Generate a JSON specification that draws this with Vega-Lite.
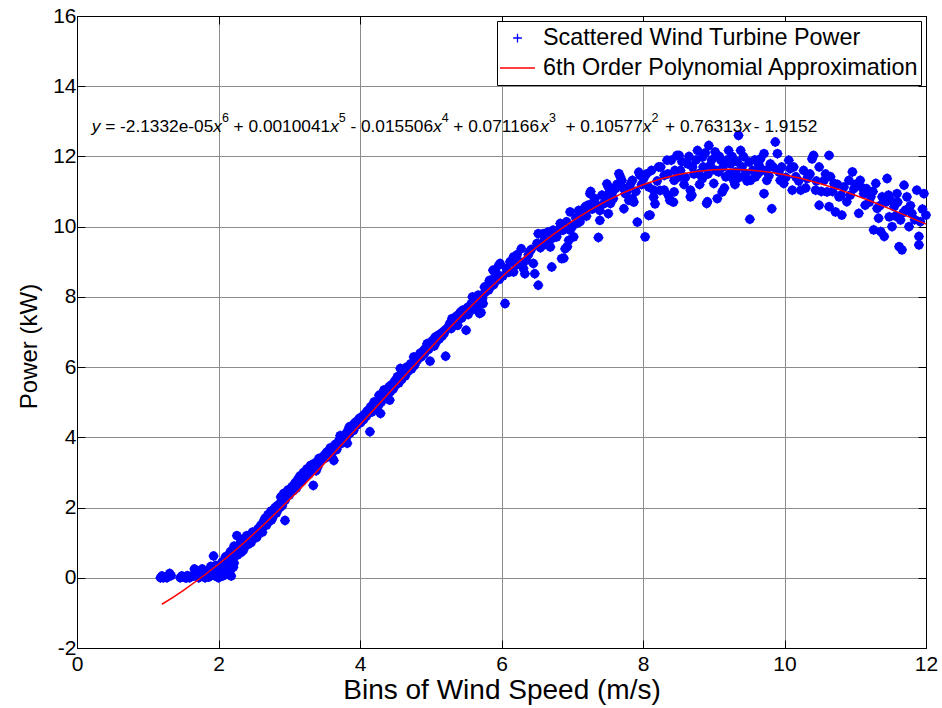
{
  "$schema": "https://vega.github.io/schema/vega-lite/v6.json",
  "width": 849,
  "height": 632,
  "autosize": {"type": "none"},
  "padding": {"left": 77, "top": 16, "right": 16, "bottom": 60},
  "background": "white",
  "config": {
    "view": {"stroke": "black", "strokeWidth": 1},
    "font": "Liberation Sans",
    "axis": {
      "domainColor": "black",
      "domainWidth": 1,
      "tickColor": "black",
      "tickSize": -8,
      "tickWidth": 1,
      "labelFont": "Liberation Sans",
      "labelFontSize": 21,
      "labelColor": "black",
      "labelFlush": false,
      "labelOverlap": false,
      "labelExpr": "'' + datum.value",
      "titleFont": "Liberation Sans",
      "titleFontWeight": "normal",
      "titleColor": "black",
      "gridColor": "#8c8c8c",
      "gridWidth": 1,
      "gridOpacity": 1
    },
    "legend": {
      "orient": "top-right",
      "offset": 5,
      "fillColor": "white",
      "strokeColor": "black",
      "padding": 2,
      "symbolSize": 1225,
      "symbolStrokeWidth": 1.3,
      "labelFont": "Liberation Sans",
      "labelFontSize": 23.4,
      "labelColor": "black",
      "labelOffset": 7,
      "labelLimit": 600,
      "rowPadding": 0,
      "clipHeight": 30
    }
  },
  "datasets": {
    "turbine": [
      {"x": 1.18, "y": 0.0}, {"x": 1.2, "y": 0.05}, {"x": 1.22, "y": 0.0}, {"x": 1.25, "y": 0.02}, {"x": 1.27, "y": 0.0}, {"x": 1.28, "y": 0.03}, {"x": 1.31, "y": 0.12}, {"x": 1.33, "y": 0.06},
      {"x": 1.46, "y": 0.0}, {"x": 1.48, "y": 0.05}, {"x": 1.5, "y": 0.02}, {"x": 1.53, "y": 0.0}, {"x": 1.55, "y": 0.0}, {"x": 1.56, "y": 0.06}, {"x": 1.59, "y": 0.0}, {"x": 1.62, "y": 0.05},
      {"x": 1.65, "y": 0.05}, {"x": 1.66, "y": 0.25}, {"x": 1.69, "y": 0.12}, {"x": 1.7, "y": 0.2}, {"x": 1.72, "y": 0.0}, {"x": 1.74, "y": 0.05}, {"x": 1.75, "y": 0.15}, {"x": 1.77, "y": 0.25},
      {"x": 1.78, "y": 0.05}, {"x": 1.81, "y": 0.0}, {"x": 1.83, "y": 0.15}, {"x": 1.84, "y": 0.1}, {"x": 1.86, "y": 0.02}, {"x": 1.87, "y": 0.2}, {"x": 1.89, "y": 0.32}, {"x": 1.9, "y": 0.15},
      {"x": 1.93, "y": 0.62}, {"x": 1.91, "y": 0.08}, {"x": 1.95, "y": 0.05}, {"x": 1.96, "y": 0.35}, {"x": 1.97, "y": 0.22}, {"x": 1.99, "y": 0.12}, {"x": 2.0, "y": 0.0}, {"x": 2.02, "y": 0.36},
      {"x": 2.03, "y": 0.25}, {"x": 2.04, "y": 0.15}, {"x": 2.05, "y": 0.45}, {"x": 2.06, "y": 0.05}, {"x": 2.07, "y": 0.3}, {"x": 2.08, "y": 0.42}, {"x": 2.1, "y": 0.25}, {"x": 2.11, "y": 0.5},
      {"x": 2.12, "y": 0.1}, {"x": 2.14, "y": 0.3}, {"x": 2.15, "y": 0.4}, {"x": 2.16, "y": 0.18}, {"x": 2.18, "y": 0.05}, {"x": 2.19, "y": 0.62}, {"x": 2.21, "y": 0.3},
      {"x": 2.1, "y": 0.6}, {"x": 2.13, "y": 0.5}, {"x": 2.17, "y": 0.75}, {"x": 2.2, "y": 0.55}, {"x": 2.22, "y": 0.42}, {"x": 2.22, "y": 0.9}, {"x": 2.24, "y": 0.7}, {"x": 2.26, "y": 1.2},
      {"x": 2.27, "y": 0.65}, {"x": 2.28, "y": 0.85}, {"x": 2.3, "y": 0.95}, {"x": 2.31, "y": 1.0}, {"x": 2.32, "y": 0.72}, {"x": 2.34, "y": 1.1}, {"x": 2.35, "y": 0.78}, {"x": 2.36, "y": 0.85},
      {"x": 2.38, "y": 1.02}, {"x": 2.39, "y": 1.05}, {"x": 2.4, "y": 1.2}, {"x": 2.42, "y": 0.95}, {"x": 2.43, "y": 1.18}, {"x": 2.44, "y": 1.08}, {"x": 2.46, "y": 1.0}, {"x": 2.47, "y": 1.1},
      {"x": 2.48, "y": 1.3}, {"x": 2.5, "y": 1.12}, {"x": 2.51, "y": 1.3}, {"x": 2.52, "y": 1.22}, {"x": 2.54, "y": 1.15}, {"x": 2.55, "y": 1.25}, {"x": 2.56, "y": 1.4}, {"x": 2.58, "y": 1.32},
      {"x": 2.59, "y": 1.45}, {"x": 2.6, "y": 1.5}, {"x": 2.62, "y": 1.3}, {"x": 2.63, "y": 1.48}, {"x": 2.64, "y": 1.62}, {"x": 2.66, "y": 1.7}, {"x": 2.67, "y": 1.6}, {"x": 2.68, "y": 1.5},
      {"x": 2.7, "y": 1.8}, {"x": 2.71, "y": 1.72}, {"x": 2.72, "y": 1.62}, {"x": 2.74, "y": 1.9}, {"x": 2.75, "y": 1.65}, {"x": 2.76, "y": 1.7}, {"x": 2.78, "y": 1.78}, {"x": 2.79, "y": 1.9},
      {"x": 2.8, "y": 2.0}, {"x": 2.82, "y": 1.85}, {"x": 2.83, "y": 2.05}, {"x": 2.84, "y": 1.95}, {"x": 2.94, "y": 1.63},
      {"x": 2.86, "y": 2.1}, {"x": 2.87, "y": 2.0}, {"x": 2.88, "y": 2.3}, {"x": 2.9, "y": 2.05}, {"x": 2.91, "y": 2.2}, {"x": 2.92, "y": 2.4}, {"x": 2.94, "y": 2.2}, {"x": 2.95, "y": 2.35},
      {"x": 2.96, "y": 2.32}, {"x": 2.98, "y": 2.5}, {"x": 2.99, "y": 2.4}, {"x": 3.0, "y": 2.35}, {"x": 3.02, "y": 2.45}, {"x": 3.03, "y": 2.5}, {"x": 3.04, "y": 2.6}, {"x": 3.06, "y": 2.48},
      {"x": 3.07, "y": 2.62}, {"x": 3.08, "y": 2.7}, {"x": 3.1, "y": 2.55}, {"x": 3.11, "y": 2.65},
      {"x": 3.12, "y": 2.8}, {"x": 3.14, "y": 2.78}, {"x": 3.15, "y": 2.9}, {"x": 3.17, "y": 2.85}, {"x": 3.18, "y": 2.75}, {"x": 3.2, "y": 3.0}, {"x": 3.21, "y": 2.92}, {"x": 3.22, "y": 2.88},
      {"x": 3.24, "y": 3.0}, {"x": 3.25, "y": 3.1}, {"x": 3.27, "y": 3.05}, {"x": 3.28, "y": 2.95}, {"x": 3.3, "y": 3.2}, {"x": 3.31, "y": 3.1}, {"x": 3.33, "y": 3.12}, {"x": 3.35, "y": 3.25},
      {"x": 3.36, "y": 3.18}, {"x": 3.38, "y": 3.05}, {"x": 3.39, "y": 3.3}, {"x": 3.4, "y": 3.15}, {"x": 3.42, "y": 3.4}, {"x": 3.43, "y": 3.28}, {"x": 3.45, "y": 3.35}, {"x": 3.34, "y": 2.63},
      {"x": 3.47, "y": 3.38}, {"x": 3.48, "y": 3.45}, {"x": 3.5, "y": 3.5}, {"x": 3.52, "y": 3.42}, {"x": 3.53, "y": 3.58}, {"x": 3.55, "y": 3.55}, {"x": 3.57, "y": 3.62}, {"x": 3.58, "y": 3.7},
      {"x": 3.6, "y": 3.45}, {"x": 3.62, "y": 3.62}, {"x": 3.63, "y": 3.34}, {"x": 3.65, "y": 3.8}, {"x": 3.67, "y": 3.65}, {"x": 3.68, "y": 3.75}, {"x": 3.7, "y": 3.9}, {"x": 3.72, "y": 4.05},
      {"x": 3.73, "y": 3.82}, {"x": 3.75, "y": 3.85}, {"x": 3.77, "y": 3.9}, {"x": 3.78, "y": 4.0}, {"x": 3.8, "y": 4.1}, {"x": 3.81, "y": 4.0}, {"x": 3.83, "y": 4.2}, {"x": 3.85, "y": 4.3},
      {"x": 3.82, "y": 3.83}, {"x": 3.86, "y": 4.12}, {"x": 3.87, "y": 4.3}, {"x": 3.9, "y": 4.25}, {"x": 3.91, "y": 4.2}, {"x": 3.92, "y": 4.4}, {"x": 3.95, "y": 4.45}, {"x": 3.96, "y": 4.35},
      {"x": 3.99, "y": 4.54}, {"x": 4.01, "y": 4.42}, {"x": 4.03, "y": 4.59}, {"x": 4.05, "y": 4.5}, {"x": 4.06, "y": 4.65}, {"x": 4.09, "y": 4.6}, {"x": 4.14, "y": 4.16}, {"x": 4.1, "y": 4.75},
      {"x": 4.13, "y": 4.7}, {"x": 4.15, "y": 4.87}, {"x": 4.17, "y": 4.72}, {"x": 4.18, "y": 4.8}, {"x": 4.2, "y": 5.01}, {"x": 4.22, "y": 4.85}, {"x": 4.24, "y": 4.95}, {"x": 4.26, "y": 4.9},
      {"x": 4.27, "y": 5.2}, {"x": 4.29, "y": 4.68}, {"x": 4.3, "y": 5.0}, {"x": 4.31, "y": 5.1}, {"x": 4.34, "y": 5.35}, {"x": 4.35, "y": 5.12}, {"x": 4.38, "y": 5.3}, {"x": 4.39, "y": 5.2},
      {"x": 4.41, "y": 5.44}, {"x": 4.42, "y": 5.06}, {"x": 4.43, "y": 5.3}, {"x": 4.45, "y": 5.5}, {"x": 4.47, "y": 5.38}, {"x": 4.49, "y": 5.6}, {"x": 4.51, "y": 5.5}, {"x": 4.53, "y": 5.73},
      {"x": 4.55, "y": 5.55}, {"x": 4.57, "y": 5.96}, {"x": 4.59, "y": 5.65}, {"x": 4.6, "y": 5.85}, {"x": 4.62, "y": 5.82}, {"x": 4.64, "y": 5.75}, {"x": 4.66, "y": 6.0}, {"x": 4.68, "y": 5.88},
      {"x": 4.7, "y": 6.05}, {"x": 4.72, "y": 6.1}, {"x": 4.73, "y": 5.95}, {"x": 4.76, "y": 6.29}, {"x": 4.77, "y": 6.05}, {"x": 4.79, "y": 6.15}, {"x": 4.81, "y": 6.2}, {"x": 4.83, "y": 6.25},
      {"x": 4.85, "y": 6.4}, {"x": 4.87, "y": 6.3}, {"x": 4.9, "y": 6.48}, {"x": 4.91, "y": 6.38}, {"x": 4.93, "y": 6.55}, {"x": 4.95, "y": 6.67}, {"x": 4.97, "y": 6.5}, {"x": 4.99, "y": 6.17},
      {"x": 5.0, "y": 6.6}, {"x": 5.02, "y": 6.75}, {"x": 5.05, "y": 6.6}, {"x": 5.06, "y": 6.85}, {"x": 5.08, "y": 6.72}, {"x": 5.1, "y": 6.9}, {"x": 5.12, "y": 6.8}, {"x": 5.14, "y": 6.95},
      {"x": 5.16, "y": 6.88}, {"x": 5.17, "y": 7.0}, {"x": 5.19, "y": 6.96}, {"x": 5.2, "y": 7.05}, {"x": 5.21, "y": 6.31}, {"x": 5.23, "y": 7.1}, {"x": 5.25, "y": 7.15}, {"x": 5.27, "y": 7.25},
      {"x": 5.29, "y": 7.1}, {"x": 5.3, "y": 7.38}, {"x": 5.32, "y": 7.2}, {"x": 5.34, "y": 7.3}, {"x": 5.36, "y": 7.45}, {"x": 5.38, "y": 7.19}, {"x": 5.39, "y": 7.35}, {"x": 5.41, "y": 7.53},
      {"x": 5.42, "y": 7.57}, {"x": 5.44, "y": 7.4}, {"x": 5.45, "y": 7.62}, {"x": 5.46, "y": 7.5}, {"x": 5.48, "y": 7.6}, {"x": 5.5, "y": 7.05}, {"x": 5.52, "y": 7.7}, {"x": 5.53, "y": 7.5},
      {"x": 5.54, "y": 7.62}, {"x": 5.57, "y": 7.8}, {"x": 5.59, "y": 8.0}, {"x": 5.61, "y": 7.65}, {"x": 5.63, "y": 7.9}, {"x": 5.65, "y": 7.75}, {"x": 5.66, "y": 7.88}, {"x": 5.67, "y": 8.05},
      {"x": 5.69, "y": 7.53}, {"x": 5.7, "y": 7.95}, {"x": 5.71, "y": 7.55}, {"x": 5.73, "y": 7.95}, {"x": 5.74, "y": 7.81}, {"x": 5.75, "y": 8.09}, {"x": 5.76, "y": 8.28}, {"x": 5.78, "y": 8.15},
      {"x": 5.8, "y": 8.33}, {"x": 5.82, "y": 8.2}, {"x": 5.83, "y": 8.47}, {"x": 5.85, "y": 8.3}, {"x": 5.87, "y": 8.47}, {"x": 5.88, "y": 8.76}, {"x": 5.89, "y": 8.35}, {"x": 5.9, "y": 8.55},
      {"x": 5.92, "y": 8.71}, {"x": 5.93, "y": 8.57}, {"x": 5.95, "y": 8.6}, {"x": 5.96, "y": 8.9}, {"x": 5.97, "y": 8.5}, {"x": 5.98, "y": 8.95},
      {"x": 6.02, "y": 8.6}, {"x": 6.05, "y": 7.81}, {"x": 6.07, "y": 8.81}, {"x": 6.1, "y": 8.7}, {"x": 6.12, "y": 9.0}, {"x": 6.17, "y": 9.14},
      {"x": 6.17, "y": 8.71}, {"x": 6.2, "y": 8.9}, {"x": 6.22, "y": 9.2}, {"x": 6.25, "y": 9.0}, {"x": 6.28, "y": 9.37}, {"x": 6.31, "y": 8.81},
      {"x": 6.33, "y": 8.66}, {"x": 6.35, "y": 9.04}, {"x": 6.38, "y": 9.2}, {"x": 6.4, "y": 9.3}, {"x": 6.42, "y": 9.35}, {"x": 6.45, "y": 8.95},
      {"x": 6.47, "y": 8.66}, {"x": 6.5, "y": 9.52}, {"x": 6.52, "y": 8.33}, {"x": 6.52, "y": 9.8}, {"x": 6.55, "y": 9.4}, {"x": 6.59, "y": 9.8},
      {"x": 6.6, "y": 9.6}, {"x": 6.62, "y": 9.5}, {"x": 6.66, "y": 9.85}, {"x": 6.68, "y": 9.6}, {"x": 6.69, "y": 9.42}, {"x": 6.71, "y": 8.85},
      {"x": 6.73, "y": 9.9}, {"x": 6.75, "y": 9.7}, {"x": 6.78, "y": 9.71}, {"x": 6.8, "y": 9.85}, {"x": 6.83, "y": 10.09}, {"x": 6.83, "y": 9.95},
      {"x": 6.85, "y": 9.09}, {"x": 6.87, "y": 9.9}, {"x": 6.88, "y": 9.1}, {"x": 6.9, "y": 9.37}, {"x": 6.92, "y": 10.14}, {"x": 6.93, "y": 9.43},
      {"x": 6.95, "y": 9.61}, {"x": 6.97, "y": 9.9}, {"x": 6.97, "y": 10.42}, {"x": 7.0, "y": 10.0}, {"x": 7.02, "y": 9.71}, {"x": 7.05, "y": 10.25},
      {"x": 7.07, "y": 10.1}, {"x": 7.09, "y": 10.46}, {"x": 7.11, "y": 10.14}, {"x": 7.13, "y": 10.3}, {"x": 7.15, "y": 10.4}, {"x": 7.18, "y": 10.56},
      {"x": 7.2, "y": 10.3}, {"x": 7.21, "y": 10.6}, {"x": 7.23, "y": 10.61}, {"x": 7.25, "y": 10.94}, {"x": 7.26, "y": 11.0}, {"x": 7.28, "y": 10.5},
      {"x": 7.3, "y": 10.7}, {"x": 7.32, "y": 10.8}, {"x": 7.35, "y": 10.6}, {"x": 7.37, "y": 9.69}, {"x": 7.39, "y": 10.46}, {"x": 7.39, "y": 10.18},
      {"x": 7.42, "y": 10.9}, {"x": 7.44, "y": 10.65}, {"x": 7.47, "y": 10.8}, {"x": 7.49, "y": 11.22}, {"x": 7.51, "y": 10.37}, {"x": 7.51, "y": 11.13},
      {"x": 7.53, "y": 11.0}, {"x": 7.54, "y": 10.66}, {"x": 7.56, "y": 10.94}, {"x": 7.58, "y": 10.8}, {"x": 7.61, "y": 11.08}, {"x": 7.63, "y": 11.2},
      {"x": 7.66, "y": 11.51}, {"x": 7.68, "y": 11.42}, {"x": 7.7, "y": 11.32}, {"x": 7.72, "y": 11.1}, {"x": 7.73, "y": 10.51}, {"x": 7.75, "y": 10.94},
      {"x": 7.77, "y": 11.0}, {"x": 7.8, "y": 10.75}, {"x": 7.82, "y": 11.2}, {"x": 7.85, "y": 11.32}, {"x": 7.85, "y": 10.8}, {"x": 7.87, "y": 10.7},
      {"x": 7.9, "y": 11.0}, {"x": 7.92, "y": 10.13}, {"x": 7.94, "y": 11.55}, {"x": 7.96, "y": 11.46}, {"x": 7.98, "y": 11.2}, {"x": 8.01, "y": 11.37},
      {"x": 8.03, "y": 9.71}, {"x": 8.05, "y": 11.5}, {"x": 8.08, "y": 10.32}, {"x": 8.08, "y": 11.13}, {"x": 8.1, "y": 10.33}, {"x": 8.12, "y": 11.6},
      {"x": 8.15, "y": 10.84}, {"x": 8.15, "y": 11.04}, {"x": 8.17, "y": 10.65}, {"x": 8.2, "y": 11.3}, {"x": 8.22, "y": 11.7}, {"x": 8.24, "y": 11.03},
      {"x": 8.25, "y": 11.7}, {"x": 8.3, "y": 11.46}, {"x": 8.3, "y": 11.04}, {"x": 8.34, "y": 11.89}, {"x": 8.35, "y": 11.5}, {"x": 8.36, "y": 10.89},
      {"x": 8.38, "y": 10.75}, {"x": 8.4, "y": 11.89}, {"x": 8.43, "y": 10.7}, {"x": 8.44, "y": 11.32}, {"x": 8.44, "y": 10.99}, {"x": 8.45, "y": 11.6},
      {"x": 8.48, "y": 12.03}, {"x": 8.5, "y": 11.41}, {"x": 8.51, "y": 12.03}, {"x": 8.53, "y": 11.6}, {"x": 8.55, "y": 11.85}, {"x": 8.58, "y": 11.2},
      {"x": 8.6, "y": 11.4}, {"x": 8.63, "y": 11.79}, {"x": 8.65, "y": 12.0}, {"x": 8.67, "y": 11.04}, {"x": 8.67, "y": 10.85}, {"x": 8.69, "y": 10.9},
      {"x": 8.7, "y": 11.7}, {"x": 8.72, "y": 11.5}, {"x": 8.75, "y": 11.9}, {"x": 8.77, "y": 12.17}, {"x": 8.79, "y": 11.51}, {"x": 8.8, "y": 11.2},
      {"x": 8.84, "y": 11.98}, {"x": 8.84, "y": 11.37}, {"x": 8.85, "y": 11.7}, {"x": 8.88, "y": 12.1}, {"x": 8.9, "y": 10.66}, {"x": 8.91, "y": 10.71},
      {"x": 8.92, "y": 11.5}, {"x": 8.93, "y": 12.31}, {"x": 8.95, "y": 11.75}, {"x": 8.97, "y": 11.9}, {"x": 9.0, "y": 11.23}, {"x": 9.02, "y": 12.13},
      {"x": 9.03, "y": 11.6}, {"x": 9.05, "y": 10.8}, {"x": 9.07, "y": 11.56}, {"x": 9.08, "y": 12.0}, {"x": 9.1, "y": 11.89}, {"x": 9.12, "y": 10.99},
      {"x": 9.13, "y": 11.7}, {"x": 9.15, "y": 11.1}, {"x": 9.17, "y": 11.42}, {"x": 9.19, "y": 11.9}, {"x": 9.21, "y": 12.17}, {"x": 9.22, "y": 11.5},
      {"x": 9.24, "y": 11.79}, {"x": 9.26, "y": 12.0}, {"x": 9.28, "y": 11.32}, {"x": 9.3, "y": 11.2}, {"x": 9.31, "y": 11.56}, {"x": 9.33, "y": 11.85},
      {"x": 9.35, "y": 12.6}, {"x": 9.36, "y": 11.4}, {"x": 9.38, "y": 12.17}, {"x": 9.4, "y": 11.7}, {"x": 9.42, "y": 12.0}, {"x": 9.45, "y": 11.51},
      {"x": 9.47, "y": 11.3}, {"x": 9.5, "y": 11.84}, {"x": 9.51, "y": 10.21}, {"x": 9.52, "y": 11.32}, {"x": 9.55, "y": 11.6}, {"x": 9.58, "y": 11.9},
      {"x": 9.59, "y": 11.42}, {"x": 9.62, "y": 11.5}, {"x": 9.64, "y": 11.75}, {"x": 9.66, "y": 11.93}, {"x": 9.68, "y": 11.6}, {"x": 9.71, "y": 12.08},
      {"x": 9.71, "y": 10.94}, {"x": 9.73, "y": 11.6}, {"x": 9.75, "y": 11.32}, {"x": 9.78, "y": 11.45}, {"x": 9.8, "y": 11.79}, {"x": 9.82, "y": 10.51},
      {"x": 9.84, "y": 11.7}, {"x": 9.87, "y": 12.41}, {"x": 9.9, "y": 12.08}, {"x": 9.92, "y": 11.56}, {"x": 9.94, "y": 11.32}, {"x": 9.96, "y": 11.7},
      {"x": 9.99, "y": 11.23}, {"x": 10.02, "y": 11.4}, {"x": 10.06, "y": 11.89}, {"x": 10.08, "y": 11.65}, {"x": 10.11, "y": 11.04}, {"x": 10.13, "y": 11.7},
      {"x": 10.16, "y": 11.42}, {"x": 10.2, "y": 11.3}, {"x": 10.23, "y": 11.04}, {"x": 10.27, "y": 11.6}, {"x": 10.3, "y": 11.1}, {"x": 10.32, "y": 11.37},
      {"x": 10.36, "y": 11.5}, {"x": 10.39, "y": 11.93}, {"x": 10.41, "y": 12.03}, {"x": 10.44, "y": 11.04}, {"x": 10.45, "y": 11.3}, {"x": 10.49, "y": 11.7},
      {"x": 10.49, "y": 10.61}, {"x": 10.52, "y": 11.0}, {"x": 10.56, "y": 11.32}, {"x": 10.58, "y": 11.5}, {"x": 10.6, "y": 10.99}, {"x": 10.63, "y": 12.03},
      {"x": 10.63, "y": 10.57}, {"x": 10.65, "y": 11.42}, {"x": 10.68, "y": 11.0}, {"x": 10.7, "y": 11.23}, {"x": 10.72, "y": 10.42}, {"x": 10.75, "y": 11.2},
      {"x": 10.77, "y": 10.85}, {"x": 10.8, "y": 10.9}, {"x": 10.81, "y": 10.33}, {"x": 10.84, "y": 11.13}, {"x": 10.88, "y": 10.71}, {"x": 10.91, "y": 11.32},
      {"x": 10.93, "y": 10.9}, {"x": 10.96, "y": 11.56}, {"x": 10.98, "y": 11.08}, {"x": 11.0, "y": 11.2}, {"x": 11.05, "y": 10.38}, {"x": 11.07, "y": 11.32},
      {"x": 11.1, "y": 11.1}, {"x": 11.12, "y": 10.94}, {"x": 11.14, "y": 10.61}, {"x": 11.16, "y": 11.08}, {"x": 11.2, "y": 10.7}, {"x": 11.22, "y": 10.85},
      {"x": 11.25, "y": 11.0}, {"x": 11.26, "y": 9.91}, {"x": 11.29, "y": 11.23}, {"x": 11.31, "y": 10.52}, {"x": 11.33, "y": 10.24}, {"x": 11.35, "y": 10.6},
      {"x": 11.36, "y": 9.86}, {"x": 11.38, "y": 10.85}, {"x": 11.41, "y": 9.72}, {"x": 11.43, "y": 10.7}, {"x": 11.45, "y": 11.37}, {"x": 11.47, "y": 10.9},
      {"x": 11.48, "y": 10.28}, {"x": 11.5, "y": 10.75}, {"x": 11.52, "y": 10.0}, {"x": 11.55, "y": 10.57}, {"x": 11.57, "y": 10.3}, {"x": 11.59, "y": 10.94},
      {"x": 11.6, "y": 10.7}, {"x": 11.62, "y": 9.43}, {"x": 11.64, "y": 10.19}, {"x": 11.66, "y": 9.34}, {"x": 11.68, "y": 10.4}, {"x": 11.69, "y": 11.18},
      {"x": 11.71, "y": 10.47}, {"x": 11.73, "y": 10.85}, {"x": 11.76, "y": 10.0}, {"x": 11.78, "y": 10.6}, {"x": 11.8, "y": 10.38}, {"x": 11.84, "y": 10.2},
      {"x": 11.87, "y": 11.04}, {"x": 11.9, "y": 9.72}, {"x": 11.9, "y": 9.48}, {"x": 11.92, "y": 10.14}, {"x": 11.95, "y": 10.5}, {"x": 11.97, "y": 10.94},
      {"x": 12.0, "y": 10.33}
    ],
    "fit": [
      {"x": 1.2, "y": -0.754}, {"x": 1.5, "y": -0.363}, {"x": 2.0, "y": 0.386}, {"x": 2.5, "y": 1.253}, {"x": 3.0, "y": 2.220},
      {"x": 3.5, "y": 3.264}, {"x": 4.0, "y": 4.356}, {"x": 4.5, "y": 5.463}, {"x": 5.0, "y": 6.554}, {"x": 5.5, "y": 7.596},
      {"x": 6.0, "y": 8.560}, {"x": 6.5, "y": 9.420}, {"x": 7.0, "y": 10.156}, {"x": 7.5, "y": 10.750}, {"x": 8.0, "y": 11.194},
      {"x": 8.5, "y": 11.483}, {"x": 9.0, "y": 11.620}, {"x": 9.5, "y": 11.613}, {"x": 10.0, "y": 11.477}, {"x": 10.5, "y": 11.230},
      {"x": 11.0, "y": 10.896}, {"x": 11.5, "y": 10.501}, {"x": 12.0, "y": 10.071}
    ],
    "eqRoman": [
      {"x": 0.398, "y": 12.70, "t": "= -2.1332e-05"},
      {"x": 2.213, "y": 12.70, "t": "+ 0.0010041"},
      {"x": 3.864, "y": 12.70, "t": "- 0.015506"},
      {"x": 5.319, "y": 12.70, "t": "+ 0.071166"},
      {"x": 6.903, "y": 12.70, "t": "+ 0.10577"},
      {"x": 8.311, "y": 12.70, "t": "+ 0.76313"},
      {"x": 9.567, "y": 12.70, "t": "- 1.9152"}
    ],
    "eqItalic": [
      {"x": 0.208, "y": 12.70, "t": "y"},
      {"x": 1.927, "y": 12.70, "t": "x"},
      {"x": 3.579, "y": 12.70, "t": "x"},
      {"x": 5.034, "y": 12.70, "t": "x"},
      {"x": 6.549, "y": 12.70, "t": "x"},
      {"x": 7.997, "y": 12.70, "t": "x"},
      {"x": 9.405, "y": 12.70, "t": "x"}
    ],
    "eqSup": [
      {"x": 2.050, "y": 12.99, "t": "6"},
      {"x": 3.701, "y": 12.99, "t": "5"},
      {"x": 5.156, "y": 12.99, "t": "4"},
      {"x": 6.672, "y": 12.99, "t": "3"},
      {"x": 8.119, "y": 12.99, "t": "2"}
    ]
  },
  "layer": [
    {
      "data": {"name": "turbine"},
      "mark": {"type": "point", "shape": "circle", "filled": true, "size": 88, "opacity": 1, "color": "#0000ff"},
      "encoding": {
        "x": {
          "field": "x", "type": "quantitative",
          "scale": {"domain": [0, 12], "nice": false, "zero": false},
          "axis": {
            "orient": "bottom", "values": [0, 2, 4, 6, 8, 10, 12],
            "labelPadding": 13,
            "title": "Bins of Wind Speed (m/s)", "titleFontSize": 28,
            "titleBaseline": "alphabetic", "titleY": 50
          }
        },
        "y": {
          "field": "y", "type": "quantitative",
          "scale": {"domain": [-2, 16], "nice": false, "zero": false},
          "axis": {
            "orient": "left", "values": [-2, 0, 2, 4, 6, 8, 10, 12, 14, 16],
            "labelPadding": 9,
            "title": "Power (kW)", "titleFontSize": 24,
            "titleX": -36, "titleY": 330
          }
        }
      }
    },
    {
      "data": {"name": "turbine"},
      "mark": {"type": "point", "filled": false, "size": 1600, "strokeWidth": 1.2, "opacity": 1},
      "encoding": {
        "x": {"field": "x", "type": "quantitative", "axis": null},
        "y": {"field": "y", "type": "quantitative", "axis": null},
        "color": {
          "datum": "Scattered Wind Turbine Power",
          "type": "nominal",
          "scale": {"domain": ["Scattered Wind Turbine Power", "6th Order Polynomial Approximation"], "range": ["#0000ff", "#ff0000"]},
          "legend": {"title": null}
        },
        "shape": {
          "datum": "Scattered Wind Turbine Power",
          "type": "nominal",
          "scale": {"domain": ["Scattered Wind Turbine Power", "6th Order Polynomial Approximation"], "range": ["M-0.25,0H0.25M0,-0.25V0.25", "stroke"]},
          "legend": {"title": null}
        }
      }
    },
    {
      "data": {"name": "fit"},
      "mark": {"type": "line", "strokeWidth": 1.5, "interpolate": "natural"},
      "encoding": {
        "x": {
          "field": "x", "type": "quantitative",
          "scale": {"domain": [0, 12], "nice": false, "zero": false},
          "axis": {"orient": "top", "values": [0, 2, 4, 6, 8, 10, 12], "labels": false, "title": null, "grid": false}
        },
        "y": {
          "field": "y", "type": "quantitative",
          "scale": {"domain": [-2, 16], "nice": false, "zero": false},
          "axis": {"orient": "right", "values": [-2, 0, 2, 4, 6, 8, 10, 12, 14, 16], "labels": false, "title": null, "grid": false}
        },
        "color": {
          "datum": "6th Order Polynomial Approximation",
          "type": "nominal",
          "scale": {"domain": ["Scattered Wind Turbine Power", "6th Order Polynomial Approximation"], "range": ["#0000ff", "#ff0000"]},
          "legend": {"title": null}
        }
      }
    },
    {
      "data": {"name": "eqRoman"},
      "mark": {"type": "text", "align": "left", "baseline": "alphabetic", "font": "Liberation Sans", "fontSize": 17.3, "color": "black"},
      "encoding": {
        "x": {"field": "x", "type": "quantitative", "axis": null},
        "y": {"field": "y", "type": "quantitative", "axis": null},
        "text": {"field": "t"}
      }
    },
    {
      "data": {"name": "eqItalic"},
      "mark": {"type": "text", "align": "left", "baseline": "alphabetic", "font": "Liberation Sans", "fontSize": 17.3, "fontStyle": "italic", "color": "black"},
      "encoding": {
        "x": {"field": "x", "type": "quantitative", "axis": null},
        "y": {"field": "y", "type": "quantitative", "axis": null},
        "text": {"field": "t"}
      }
    },
    {
      "data": {"name": "eqSup"},
      "mark": {"type": "text", "align": "left", "baseline": "alphabetic", "font": "Liberation Sans", "fontSize": 12.5, "color": "black"},
      "encoding": {
        "x": {"field": "x", "type": "quantitative", "axis": null},
        "y": {"field": "y", "type": "quantitative", "axis": null},
        "text": {"field": "t"}
      }
    }
  ],
  "resolve": {"axis": {"x": "independent", "y": "independent"}}
}
